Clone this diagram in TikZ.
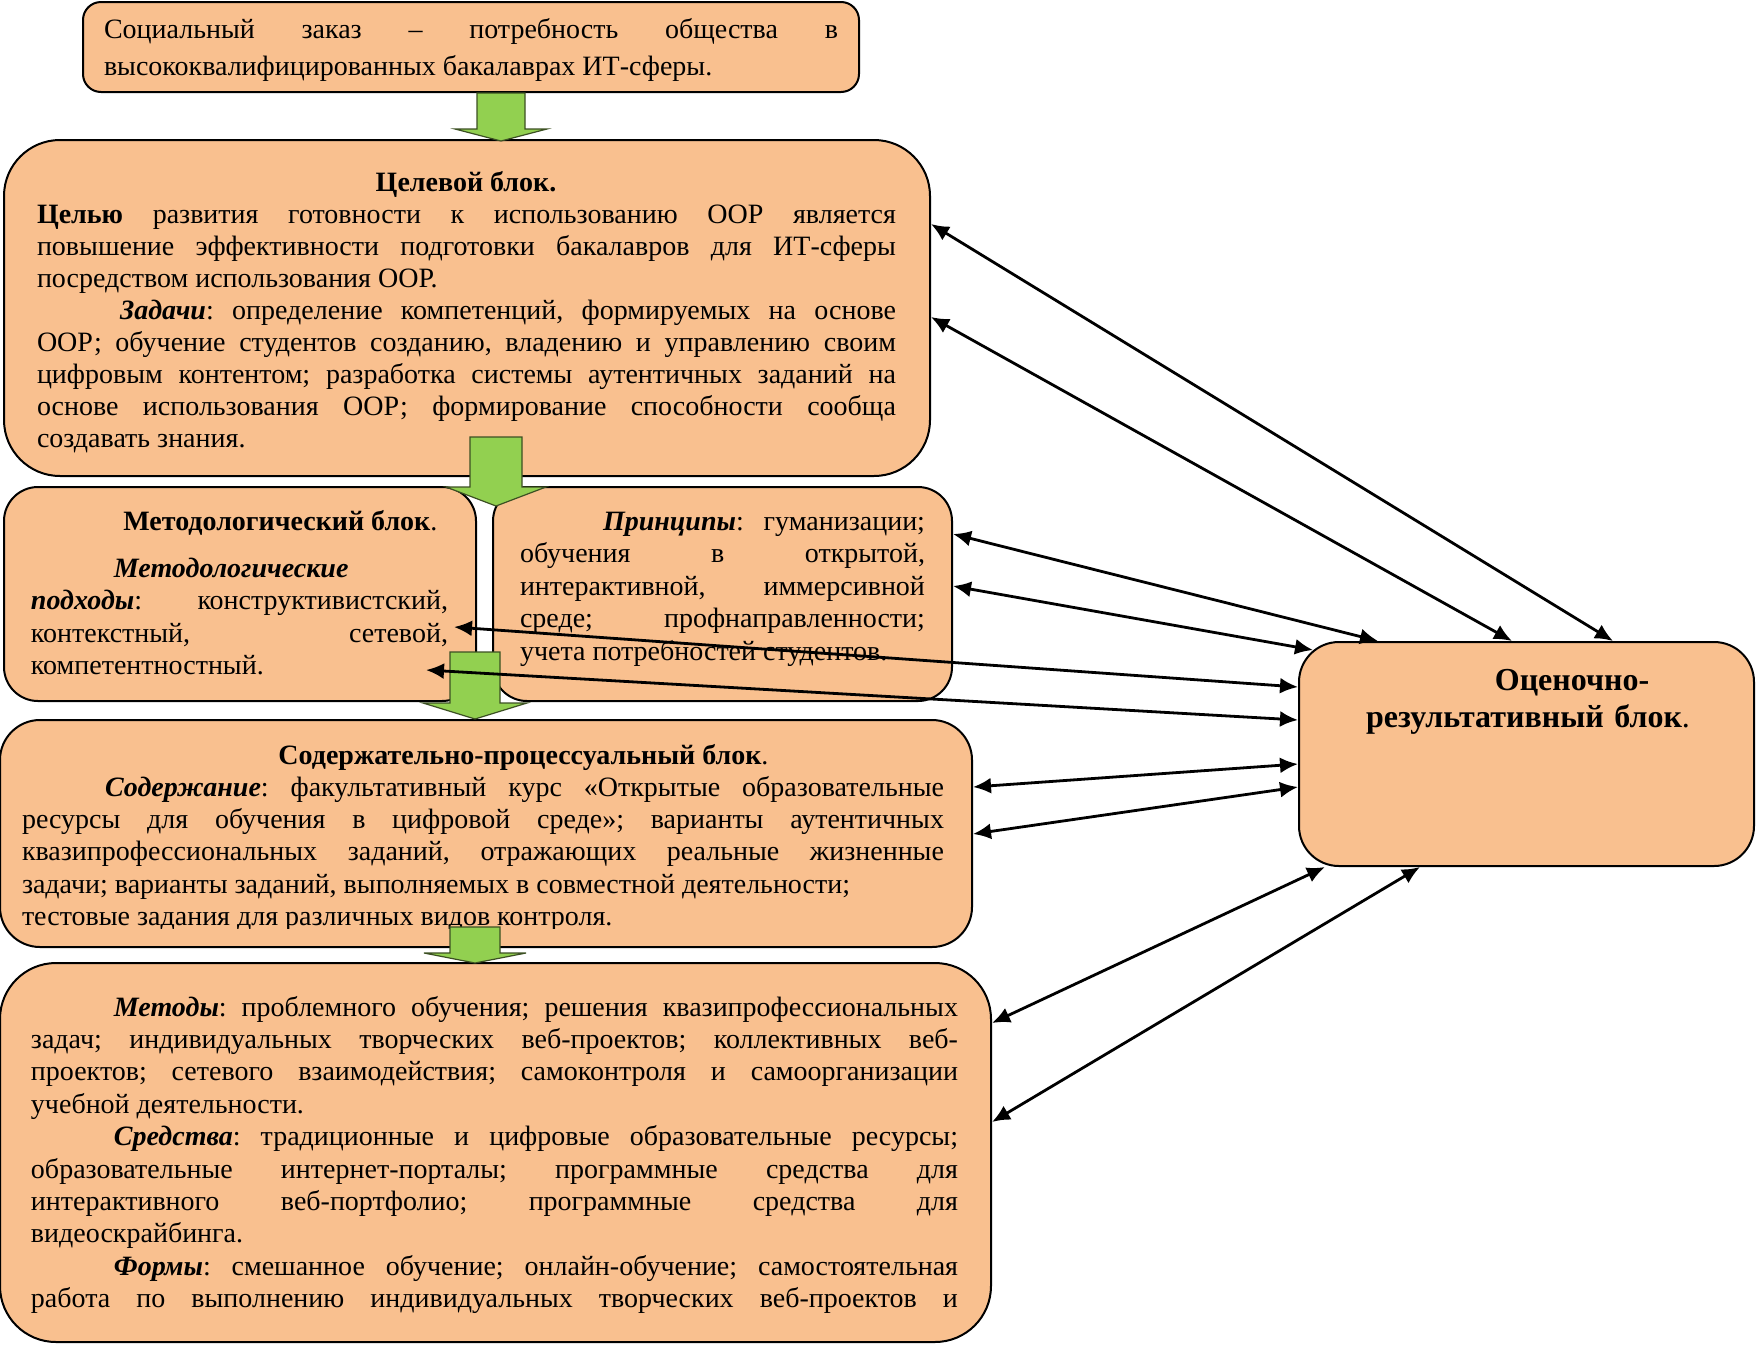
\documentclass[tikz,border=0pt]{standalone}
\usepackage{fontspec}
\setmainfont{Liberation Serif}
\usetikzlibrary{arrows.meta,fit}
\definecolor{boxfill}{RGB}{249,192,143}
\definecolor{gfill}{RGB}{146,208,80}
\definecolor{gline}{RGB}{60,80,35}
\newlength\ind \setlength\ind{41.5pt}
\newcommand\jst{\spaceskip=3.5pt plus 14pt minus 2.1pt\relax}
\newcommand\garr[6]{%
  \draw[garrow] ({#1-#5},#2) -- ({#1+#5},#2) -- ({#1+#5},#3) -- ({#1+#6},#3)
    -- (#1,#4) -- ({#1-#6},#3) -- ({#1-#5},#3) -- cycle;}
\tikzset{
  box/.style={draw=black, line width=1pt, fill=boxfill, inner sep=0pt, rounded corners=#1},
  txt/.style={anchor=base west, inner sep=0pt, outer sep=0pt, text width=#1, align=justify},
  fa/.style={font=\fontsize{14}{18.5}\selectfont},
  fb/.style={font=\fontsize{14}{16.05}\selectfont},
  fc/.style={font=\fontsize{14}{16.25}\selectfont},
  fd/.style={font=\fontsize{14}{16.2}\selectfont},
  ttl/.style={inner sep=0pt, font=\fontsize{14}{16}\selectfont},
  garrow/.style={fill=gfill, draw=gline, line width=0.6pt, line join=miter},
  dbl/.style={{Latex[length=9pt,width=8pt]}-{Latex[length=9pt,width=8pt]}, line width=1.4pt},
}
\begin{document}
\frenchspacing\hyphenpenalty=10000\exhyphenpenalty=10000\tolerance=10000
\begin{tikzpicture}[x=0.5pt,y=-0.5pt]
\useasboundingbox (0,0) rectangle (1756,1350);
% boxes
\node[box=9pt,  fit={(83,2) (859,92)}] (soc) {};
\node[box=28pt, fit={(4,140) (930,476)}] (cel) {};
\node[box=17pt, fit={(4,487) (476,701)}] (met) {};
\node[box=17pt, fit={(493,487) (952,701)}] (prin) {};
\node[box=20pt, fit={(0,720) (972,947)}] (som) {};
\node[box=28pt, fit={(0,963) (991,1342)}] (bot) {};
\node[box=20pt, fit={(1299,642) (1754,866)}] (ocen) {};
% texts
\node[txt=367pt, fa] (soct) at (104,38)
 {\jst Социальный заказ – потребность общества в\linebreak высококвалифицированных бакалаврах ИТ-сферы.};
\node[ttl, anchor=base] (celh) at (466,191) {\textbf{Целевой блок.}};
\node[txt=429.5pt, fb] (celt) at (37,223)
 {\jst\textbf{Целью} развития готовности к использованию ООР является\linebreak повышение эффективности подготовки бакалавров для ИТ-сферы\linebreak посредством использования ООР.\par
 \hspace*{\ind}\textbf{\textit{Задачи}}: определение компетенций, формируемых на основе\linebreak ООР; обучение студентов созданию, владению и управлению своим\linebreak цифровым контентом; разработка системы аутентичных заданий на\linebreak основе использования ООР; формирование способности сообща\linebreak создавать знания.};
\node[ttl, anchor=base west] (meth) at (123,530) {\textbf{Методологический блок}.};
\node[txt=208.5pt, fc] (mett) at (31,577)
 {\jst\hspace*{\ind}\textbf{\textit{Методологические}}\newline \textbf{\textit{подходы}}: конструктивистский,\linebreak контекстный, сетевой,\linebreak компетентностный.};
\node[txt=202.5pt, fc] (print) at (520,530)
 {\jst\hspace*{\ind}\textbf{\textit{Принципы}}: гуманизации;\linebreak обучения в открытой,\linebreak интерактивной, иммерсивной\linebreak среде; профнаправленности;\linebreak учета потребностей студентов.};
\node[ttl, anchor=base west] (somh) at (278,764) {\textbf{Содержательно-процессуальный блок}.};
\begin{scope}
\clip (0,700) rectangle (972,928);
\node[txt=461pt, fd] (somt) at (22,796)
 {\jst\hspace*{\ind}\textbf{\textit{Содержание}}: факультативный курс «Открытые образовательные\linebreak ресурсы для обучения в цифровой среде»; варианты аутентичных\linebreak квазипрофессиональных заданий, отражающих реальные жизненные\linebreak задачи; варианты заданий, выполняемых в совместной деятельности;\newline тестовые задания для различных видов контроля.};
\end{scope}
\node[txt=463.5pt, fd] (bott) at (31,1016)
 {\jst\hspace*{\ind}\textbf{\textit{Методы}}: проблемного обучения; решения квазипрофессиональных\linebreak задач; индивидуальных творческих веб-проектов; коллективных веб-\linebreak проектов; сетевого взаимодействия; самоконтроля и самоорганизации\linebreak учебной деятельности.\par
 \hspace*{\ind}\textbf{\textit{Средства}}: традиционные и цифровые образовательные ресурсы;\linebreak образовательные интернет-порталы; программные средства для\linebreak интерактивного веб-портфолио; программные средства для\linebreak видеоскрайбинга.\par
 \hspace*{\ind}\textbf{\textit{Формы}}: смешанное обучение; онлайн-обучение; самостоятельная\linebreak {\parfillskip=0pt работа по выполнению индивидуальных творческих веб-проектов и\par}};
\node[anchor=base, inner sep=0pt, text width=200pt, align=center,
  font=\fontsize{16}{18.5}\selectfont\bfseries] (ocent) at (1528,690)
 {\hspace*{44pt}Оценочно-\\результативный блок\textmd{.}};
% green arrows
\garr{501}{93}{129}{141}{24}{46}
\garr{496}{437}{487}{506}{26}{50}
\garr{475}{652}{703}{719}{25}{52}
\garr{475}{927}{953}{963}{25}{51}
% connectors
\coordinate (m1) at (454,627);
\coordinate (m2) at (426,670);
\coordinate (o4) at (1313,650);
\draw[dbl] (cel.east |- 0,224) -- (ocen.north -| 1613,0);
\draw[dbl] (cel.east |- 0,317) -- (ocen.north -| 1512,0);
\draw[dbl] (prin.east |- 0,534) -- (ocen.north -| 1378,0);
\draw[dbl] (prin.east |- 0,586) -- (o4);
\draw[dbl] (m1) -- (ocen.west |- 0,687);
\draw[dbl] (m2) -- (ocen.west |- 0,720);
\draw[dbl] (som.east |- 0,787) -- (ocen.west |- 0,764);
\draw[dbl] (som.east |- 0,834) -- (ocen.west |- 0,787);
\draw[dbl] (bot.east |- 0,1023) -- (ocen.south -| 1325,0);
\draw[dbl] (bot.east |- 0,1122) -- (ocen.south -| 1420,0);
\end{tikzpicture}
\end{document}
